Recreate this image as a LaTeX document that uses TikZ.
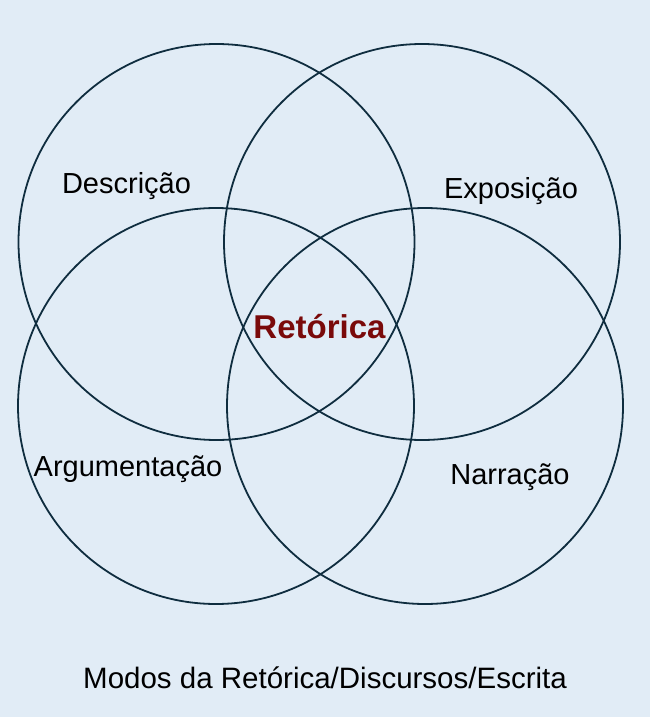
\documentclass[tikz,border=0pt]{standalone}
\usepackage{fontspec}
\setmainfont{Liberation Sans}
\definecolor{bgblue}{HTML}{E1ECF6}
\definecolor{ringcol}{HTML}{0F2D3F}
\definecolor{rhetred}{HTML}{7A0A0A}
\begin{document}
\begin{tikzpicture}[x=1pt,y=-1pt,
  ring/.style={draw=ringcol,line width=1.8pt,circle,minimum size=396pt,inner sep=0pt},
  lbl/.style={font=\fontsize{29}{34}\selectfont,text=black,inner sep=0pt,anchor=base}]
\fill[bgblue] (0,0) rectangle (650,717);
\useasboundingbox (0,0) rectangle (650,717);
\node[ring] (c1) at (216.5,242) {};
\node[ring] (c2) at (422,242) {};
\node[ring] (c3) at (216,406) {};
\node[ring] (c4) at (425,406) {};
\node[lbl] (d) at (126.5,193.3) {Descrição};
\node[lbl] (e) at (511,198.3) {Exposição};
\node[lbl] (a) at (128,476.7) {Argumentação};
\node[lbl] (n) at (510,484) {Narração};
\node[lbl,font=\bfseries\fontsize{33}{38}\selectfont,text=rhetred] (r) at (319.5,338) {Retórica};
\node[lbl,font=\fontsize{29.5}{34}\selectfont] (t) at (325,688.3) {Modos da Retórica/Discursos/Escrita};
\end{tikzpicture}
\end{document}
